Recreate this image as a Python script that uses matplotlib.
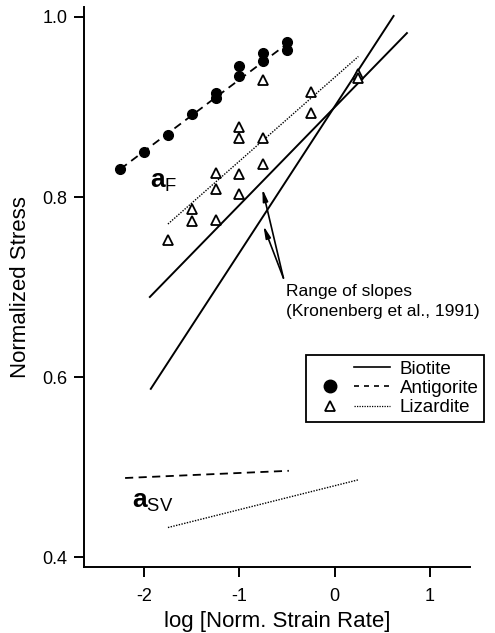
import matplotlib
matplotlib.use("Agg")
import matplotlib.pyplot as plt
from matplotlib.lines import Line2D
from matplotlib.legend_handler import HandlerTuple

plt.rcParams['font.family'] = ['Liberation Sans', 'DejaVu Sans']
plt.rcParams['mathtext.fontset'] = 'custom'
plt.rcParams['mathtext.rm'] = 'Liberation Sans'
plt.rcParams['mathtext.bf'] = 'Liberation Sans:bold'

# Antigorite (filled circles) - a_F
antig_x = [-2.25, -2.0, -1.75, -1.5, -1.25, -1.25, -1.0, -1.0, -0.75, -0.75, -0.5, -0.5]
antig_y = [0.831, 0.850, 0.869, 0.892, 0.916, 0.910, 0.945, 0.934, 0.960, 0.951, 0.972, 0.963]
antig_fit_x = [-2.25, -0.5]
antig_fit_y = [0.831, 0.970]

# Lizardite (open triangles) - a_F
liz_x = [-1.75, -1.5, -1.5, -1.25, -1.25, -1.25, -1.0, -1.0, -1.0, -1.0,
         -0.75, -0.75, -0.75, -0.25, -0.25, 0.25, 0.25]
liz_y = [0.752, 0.787, 0.773, 0.827, 0.809, 0.775, 0.878, 0.866, 0.826, 0.803,
         0.930, 0.866, 0.837, 0.917, 0.893, 0.937, 0.932]
liz_fit_x = [-1.75, 0.25]
liz_fit_y = [0.770, 0.956]

# Biotite range of slopes (Kronenberg et al., 1991)
bio1_x = [-1.94, 0.76]
bio1_y = [0.689, 0.982]
bio2_x = [-1.93, 0.62]
bio2_y = [0.587, 1.001]

# a_SV lines
antig_sv_x = [-2.2, -0.48]
antig_sv_y = [0.488, 0.496]
liz_sv_x = [-1.75, 0.25]
liz_sv_y = [0.433, 0.486]

fig = plt.figure(figsize=(4.95, 6.33), dpi=100)
ax = fig.add_axes([0.170, 0.104, 0.779, 0.885])

dash = (0, (4.5, 3))
dot = (0, (1, 1))

ax.plot(bio1_x, bio1_y, color='black', lw=1.4)
ax.plot(bio2_x, bio2_y, color='black', lw=1.4)
ax.plot(antig_fit_x, antig_fit_y, color='black', lw=1.3, ls=dash)
ax.plot(liz_fit_x, liz_fit_y, color='black', lw=1.0, ls=dot)
ax.plot(antig_x, antig_y, 'o', color='black', ms=7)
ax.plot(liz_x, liz_y, '^', mfc='white', mec='black', mew=1.3, ms=7)

ax.plot(antig_sv_x, antig_sv_y, color='black', lw=1.3, ls=dash)
ax.plot(liz_sv_x, liz_sv_y, color='black', lw=1.0, ls=dot)

# arrows to the biotite lines
for tip in [(-0.758, 0.809), (-0.747, 0.768)]:
    ax.annotate('', xy=tip, xytext=(-0.537, 0.710),
                arrowprops=dict(arrowstyle='-|>,head_length=0.7,head_width=0.15',
                                color='black', lw=1.2, shrinkA=0, shrinkB=0))
ax.text(-0.51, 0.703, 'Range of slopes\n(Kronenberg et al., 1991)',
        fontsize=12.5, va='top', ha='left', linespacing=1.4)

ax.text(-1.94, 0.81, r'$\mathbf{a}_{\mathrm{F}}$', fontsize=19)
ax.text(-2.13, 0.455, r'$\mathbf{a}_{\mathrm{SV}}$', fontsize=19)

h_bio = (Line2D([], [], ls='none'), Line2D([], [], color='black', lw=1.2))
h_ant = (Line2D([], [], marker='o', ls='none', color='black', ms=9),
         Line2D([], [], color='black', lw=1.2, ls=(0, (3, 3))))
h_liz = (Line2D([], [], marker='^', ls='none', mfc='white', mec='black', mew=1.3, ms=7),
         Line2D([], [], color='black', lw=0.9, ls=dot))
leg = ax.legend([h_bio, h_ant, h_liz], ['Biotite', 'Antigorite', 'Lizardite'],
                handler_map={tuple: HandlerTuple(ndivide=None, pad=0.3)},
                loc='upper left', bbox_to_anchor=(0.575, 0.379),
                borderaxespad=0, fontsize=13.5, handlelength=4.2,
                handletextpad=0.5, labelspacing=0.12, borderpad=0.3,
                frameon=True, fancybox=False, edgecolor='black', framealpha=1)
leg.get_frame().set_linewidth(1.3)

ax.set_xlim(-2.63, 1.42)
ax.set_ylim(0.389, 1.011)
ax.set_xticks([-2, -1, 0, 1])
ax.set_xticklabels(['-2', '-1', '0', '1'])
ax.set_yticks([0.4, 0.6, 0.8, 1.0])
ax.set_yticklabels(['0.4', '0.6', '0.8', '1.0'])
ax.spines['top'].set_visible(False)
ax.spines['right'].set_visible(False)
for s in ['left', 'bottom']:
    ax.spines[s].set_linewidth(1.4)
ax.tick_params(direction='out', length=7, width=1.4, labelsize=13, pad=5)
ax.tick_params(axis='x', pad=8)
ax.set_xlabel('log [Norm. Strain Rate]', fontsize=16, labelpad=4)
ax.set_ylabel('Normalized Stress', fontsize=16, labelpad=8)

fig.savefig('out.png', dpi=100)
